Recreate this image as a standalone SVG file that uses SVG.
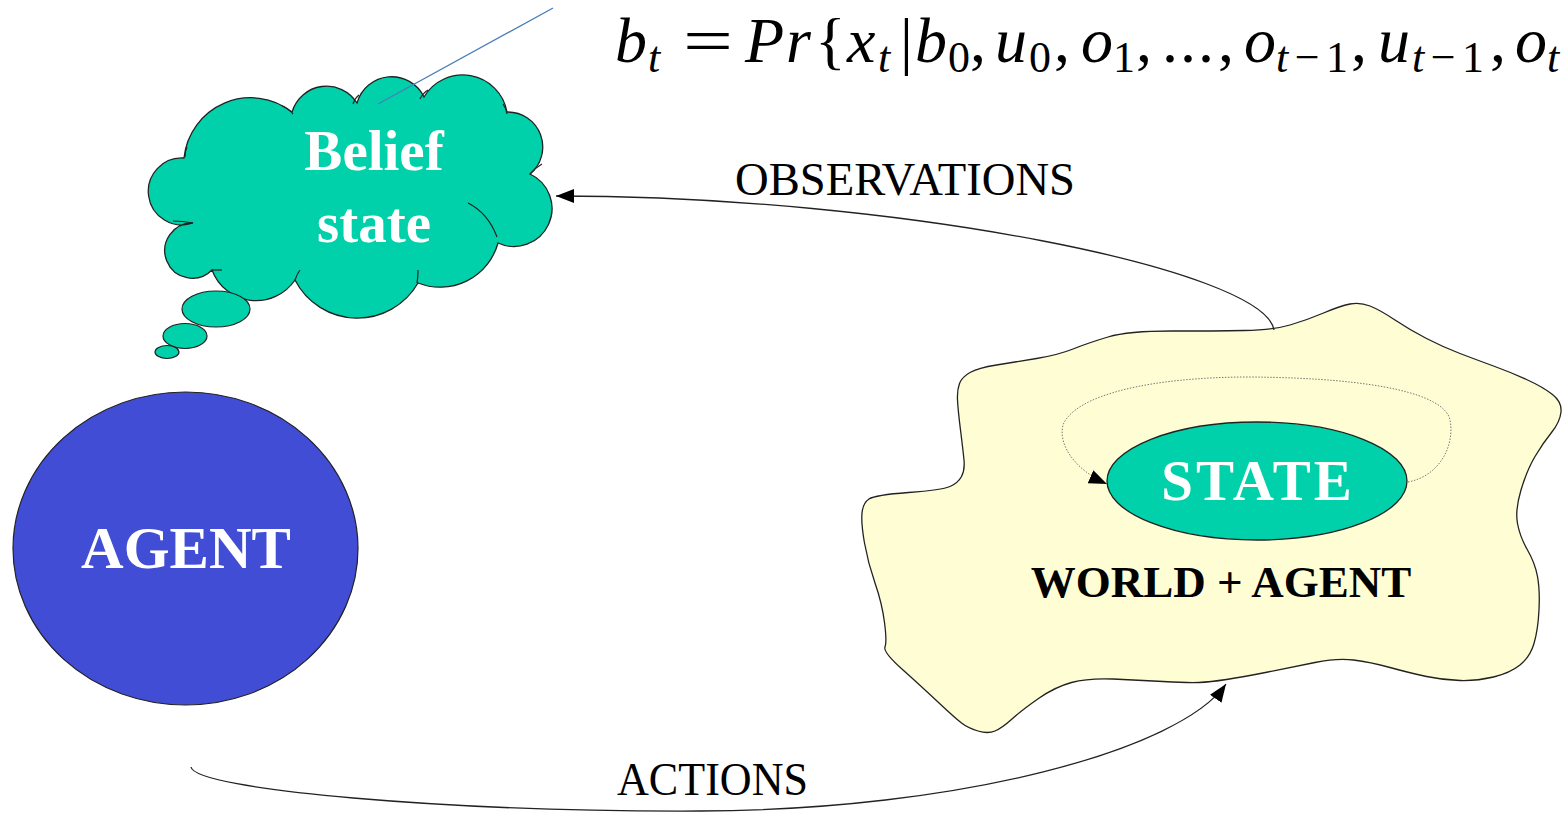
<svg xmlns="http://www.w3.org/2000/svg" width="1562" height="813" viewBox="0 0 1562 813">
<style>
.mi{font-family:'Liberation Serif',serif;font-style:italic;font-size:64px;fill:#000}
.mr{font-family:'Liberation Serif',serif;font-size:64px;fill:#000}
.si{font-family:'Liberation Serif',serif;font-style:italic;font-size:44px;fill:#000}
.sr{font-family:'Liberation Serif',serif;font-size:44px;fill:#000}
.lbl{font-family:'Liberation Serif',serif;font-size:47px;fill:#000}
.wb{font-family:'Liberation Serif',serif;font-weight:bold;fill:#fff;text-anchor:middle}
.edge{fill:none;stroke:#222;stroke-width:1.3}
</style>
<defs>
<marker id="ah" markerUnits="userSpaceOnUse" markerWidth="20" markerHeight="16" refX="18" refY="7" orient="auto"><path d="M0,0 L18,7 L0,14 z" fill="#000"/></marker>
</defs>
<rect width="1562" height="813" fill="#fff"/>

<g id="world">
<path fill="#FFFDD3" stroke="#222" stroke-width="1.3" d="M957.5,400 Q957,390 959.5,383.5 Q962,377 970,372.5 Q978,368 996.5,365 Q1015,362 1036.5,358.5 Q1058,355 1073,349 Q1088,343 1108,337 Q1128,331 1171.5,331 Q1215,331 1244,330.5 Q1273,330 1290,325 Q1307,320 1323.5,313 Q1340,306 1350,304 Q1360,302 1370,306 Q1380,310 1395,320 Q1410,330 1426.5,338.5 Q1443,347 1460,353.5 Q1477,360 1493.5,366 Q1510,372 1526.5,379.5 Q1543,387 1552.5,394.5 Q1562,402 1561,412 Q1560,422 1551.5,432.5 Q1543,443 1535,456.5 Q1527,470 1521,490 Q1515,510 1517.5,523.5 Q1520,537 1527.5,550 Q1535,563 1537.5,576.5 Q1540,590 1539,610 Q1538,630 1534,643.5 Q1530,657 1520,665 Q1510,673 1493.5,677 Q1477,681 1460,680.5 Q1443,680 1426.5,676.5 Q1410,673 1390,667.5 Q1370,662 1353.5,660 Q1337,658 1315,662.5 Q1293,667 1268,672 Q1243,677 1226.5,679.5 Q1210,682 1199,682.5 Q1188,683 1163,681.5 Q1138,680 1113,679 Q1088,678 1071.5,682.5 Q1055,687 1038.5,698.5 Q1022,710 1012,719 Q1002,728 995,731 Q988,734 978,731 Q968,728 961.5,723 Q955,718 938.5,702.5 Q922,687 902.5,669.5 Q883,652 885,647 Q887,642 884.5,622.5 Q882,603 875,583 Q868,563 864.5,543 Q861,523 862,513 Q863,503 869,499 Q875,495 908.5,492.5 Q942,490 950,486.5 Q958,483 961.5,476.5 Q965,470 964,460 Q963,450 960.5,430 Q958,410 957.5,400 Z"/>
<text x="1221" y="597" font-family="'Liberation Serif',serif" font-weight="bold" font-size="45" text-anchor="middle" fill="#000">WORLD + AGENT</text>
</g>

<g id="state">
<ellipse cx="1257" cy="481" rx="150" ry="59" fill="#00D1AA" stroke="#222" stroke-width="1.3"/>
<text class="wb" x="1258" y="500" font-size="57" letter-spacing="3">STATE</text>
</g>

<g id="belief">
<path fill="#00D1AA" stroke="#222" stroke-width="1.3" d="M184,158 A67,67 0 0 1 292,112 A36,36 0 0 1 357,103 A36,36 0 0 1 424,97 A45,45 0 0 1 507,112 A35,35 0 0 1 530,174 A34,34 0 0 1 498,243 A60,60 0 0 1 418,283 A70,70 0 0 1 295,280 A47,47 0 0 1 212,270 A27.6,27.6 0 1 1 193,223 A33.5,33.5 0 1 1 184,158 Z"/>
<g fill="none" stroke="#222" stroke-width="1.2">
<path d="M282,106 Q288,108 293,114"/>
<path d="M353,104 Q355,98 359,95"/>
<path d="M420,99 Q423,93 428,90"/>
<path d="M503,104 Q506,108 507,114"/>
<path d="M530,174 Q535,168 542,164"/>
<path d="M468,203 Q488,213 497,237"/>
<path d="M418,270 Q418,277 417,283"/>
<path d="M295,280 Q297,274 300,270"/>
<path d="M212,270 Q217,270 222,270"/>
<path d="M193,223 Q183,221 173,221"/>
<path d="M185,157 Q185,151 187,147"/>
</g>
<ellipse cx="216" cy="309" rx="34" ry="18" fill="#00D1AA" stroke="#222" stroke-width="1.2"/>
<ellipse cx="185" cy="336" rx="22" ry="12.5" fill="#00D1AA" stroke="#222" stroke-width="1.2"/>
<ellipse cx="167" cy="352" rx="12" ry="6.5" fill="#00D1AA" stroke="#222" stroke-width="1.2"/>
<text class="wb" x="374" y="170" font-size="57">Belief</text>
<text class="wb" x="374" y="242" font-size="57">state</text>
</g>

<g id="agent">
<ellipse cx="185.5" cy="548.5" rx="172.5" ry="156.5" fill="#424DD6" stroke="#222" stroke-width="1.2"/>
<text class="wb" x="186" y="568" font-size="59">AGENT</text>
</g>

<g id="formula">
<text class="mi" x="615" y="62">b</text>
<text class="si" x="648" y="72">t</text>
<text class="mr" x="683" y="62" textLength="50" lengthAdjust="spacingAndGlyphs">=</text>
<text class="mi" x="745" y="62">P</text>
<text class="mi" x="786" y="62">r</text>
<text class="mr" x="815" y="62">{</text>
<text class="mi" x="847" y="62">x</text>
<text class="si" x="878" y="72">t</text>
<text class="mr" x="900" y="62">|</text>
<text class="mi" x="915" y="62">b</text>
<text class="sr" x="948" y="72">0</text>
<text class="mr" x="970" y="62">,</text>
<text class="mi" x="995" y="62">u</text>
<text class="sr" x="1029" y="72">0</text>
<text class="mr" x="1054" y="62">,</text>
<text class="mi" x="1081" y="62">o</text>
<text class="sr" x="1113" y="72">1</text>
<text class="mr" x="1136" y="62">,</text>
<text class="mr" x="1162" y="62" letter-spacing="2">...</text>
<text class="mr" x="1218" y="62">,</text>
<text class="mi" x="1244" y="62">o</text>
<text class="sr" x="1276" y="72" textLength="72" lengthAdjust="spacing"><tspan font-style="italic">t</tspan>−1</text>
<text class="mr" x="1351" y="62">,</text>
<text class="mi" x="1378" y="62">u</text>
<text class="sr" x="1412" y="72" textLength="72" lengthAdjust="spacing"><tspan font-style="italic">t</tspan>−1</text>
<text class="mr" x="1490" y="62">,</text>
<text class="mi" x="1515" y="62">o</text>
<text class="si" x="1547" y="72">t</text>
</g>

<g id="connectors">
<line x1="553" y1="8" x2="378" y2="104" stroke="#4A7EBB" stroke-width="1.3"/>
<path class="edge" d="M1274,330 C1265,270 900,196 556,196" marker-end="url(#ah)"/>
<path class="edge" d="M191,767 C195,790 450,812 700,811 C960,810 1180,750 1226,684" marker-end="url(#ah)"/>
<path d="M1408,482 C1440,476 1455,445 1450,420 C1445,395 1380,378 1250,377 C1150,377 1075,395 1063,425 C1058,445 1075,470 1107,484" fill="none" stroke="#777" stroke-width="1" stroke-dasharray="1.5,1.5" marker-end="url(#ah)"/>
<text class="lbl" x="735" y="195" textLength="340" lengthAdjust="spacingAndGlyphs">OBSERVATIONS</text>
<text class="lbl" x="617" y="795" textLength="191" lengthAdjust="spacingAndGlyphs">ACTIONS</text>
</g>
</svg>
